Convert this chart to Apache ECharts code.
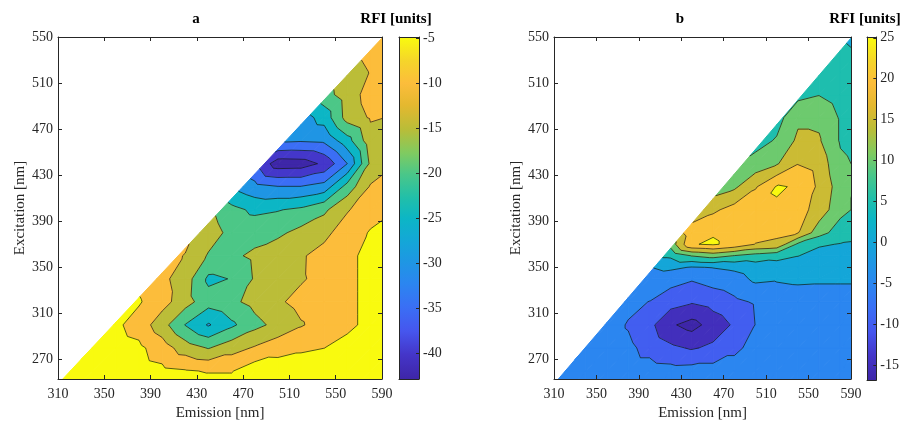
<!DOCTYPE html>
<html>
<head>
<meta charset="utf-8">
<script src="https://cdn.jsdelivr.net/npm/echarts@6/dist/echarts.min.js"></script>
<style>
  html, body { margin: 0; padding: 0; background: #fff; }
  #chart { width: 902px; height: 426px; }
</style>
</head>
<body>
<div id="chart"></div>
<script>
const _ = null;

// Sampling grid (nm)
const emission = [300, 320, 340, 360, 380, 400, 420, 440, 460, 480, 500, 520, 540, 560, 580, 600];
const excitationA = [240, 260, 280, 300, 320, 340, 360, 380, 400, 420, 440, 460, 480, 500, 520, 540, 560];
const excitationB = [240, 260, 280, 300, 320, 340, 350, 360, 370, 380, 400, 420, 440, 460, 480, 500, 520, 540, 560];

// RFI, panel a (one row per excitation, columns follow `emission`)
const rfiA = [
  [-2, -2, -2, -2, -2, -2, -2, -2, -2, -2, -2, -2, -2, -2, -2, -2],
  [-3, -3, -3, -3, -3, -3.9, -4.6, -5.3, -5.3, -2, -2.2, -2.1, -2.5, -2.5, -2.5, -2.5],
  [_, -3, -3, -3, -4, -7.5, -12.5, -15.3, -12, -9.5, -7, -5.8, -5.05, -3, -3, -3],
  [_, -3, -3.5, -4.1, -7, -13, -20.2, -25.5, -21, -16.5, -13.5, -10.4, -8, -6.3, -3.4, -2.5],
  [_, _, -3.5, -3.5, -4.55, -8, -13, -18, -16, -13.5, -10.7, -8.5, -7.5, -6.3, -3.4, -2.5],
  [_, _, _, -4.5, -6, -8.8, -12.5, -21, -19.8, -14.5, -12, -10.5, -8.5, -6.3, -3.4, -2.5],
  [_, _, _, _, -5.8, -8.5, -10.2, -15.5, -16, -14, -12, -10.6, -8, -6.3, -3.4, -2.5],
  [_, _, _, _, _, -7, -8.5, -12.5, -16.5, -17, -16, -13.5, -11.5, -7, -4.7, -3],
  [_, _, _, _, _, _, -12, -14, -18.5, -21, -20.3, -19, -16, -10.5, -6.5, -5.2],
  [_, _, _, _, _, _, _, -22, -25.5, -28.5, -29.8, -29.8, -28, -18, -9.5, -8],
  [_, _, _, _, _, _, _, _, -31, -34.5, -42.8, -42.5, -39, -30, -14, -10.5],
  [_, _, _, _, _, _, _, _, _, -30, -29, -29.5, -29, -22, -12, -9.5],
  [_, _, _, _, _, _, _, _, _, _, -29, -27.5, -23, -13, -9.5, -10.3],
  [_, _, _, _, _, _, _, _, _, _, _, -19, -17, -12.5, -8, -8],
  [_, _, _, _, _, _, _, _, _, _, _, _, -13, -12, -9.8, -9],
  [_, _, _, _, _, _, _, _, _, _, _, _, _, -9.5, -8.5, -7.5],
  [_, _, _, _, _, _, _, _, _, _, _, _, _, _, -8, -7]
];

// RFI, panel b
const rfiB = [
  [-3, -3, -3, -3, -3, -3, -3, -3, -3, -3, -3, -3, -2.8, -2.8, -2.8, -2.8],
  [-3, -3, -3, -3, -3, -3, -3.3, -3, -3, -3, -3, -3, -2.8, -2.8, -2.8, -2.8],
  [-3, -3, -3, -3, -4, -6.5, -9, -10.5, -9, -6, -3.5, -3, -2.8, -2.8, -2.8, -2.8],
  [_, -3, -3, -3, -5.35, -8.57, -14.3, -16.8, -12.9, -9.3, -4.9, -3, -2.8, -2.8, -2.8, -2.8],
  [_, _, -3, -3, -3.8, -5.1, -8, -9.5, -8, -6, -4.5, -3, -2.8, -2.8, -2.8, -2.8],
  [_, _, _, -3, -2.5, -2, -3, -4.5, -3, -2, 1, 0.5, 1, 0.8, 0.8, 0.8],
  [_, _, _, _, -1, -0.1, 1, -0.3, 0.2, 1, 2.5, 3, 3, 2, 2, 2],
  [_, _, _, _, _, 6, 6, 10.2, 12, 9.8, 8, 6.5, 5.1, 3.5, 3, 3],
  [_, _, _, _, _, 12, 12, 24.7, 25.6, 23.5, 19.8, 19, 9, 5.5, 4.8, 4.5],
  [_, _, _, _, _, _, 16, 23, 24.6, 23.5, 22, 21, 20.2, 12, 7.5, 6],
  [_, _, _, _, _, _, 12, 16, 19, 22, 24, 24.5, 22, 18, 11.5, 8.5],
  [_, _, _, _, _, _, _, 9, 12, 14, 19.5, 25.4, 24.6, 19, 12.5, 8.5],
  [_, _, _, _, _, _, _, _, 8, 9.5, 12, 14.5, 19.8, 18, 11, 9],
  [_, _, _, _, _, _, _, _, _, 7, 8, 10.5, 16, 15.5, 9.5, 8],
  [_, _, _, _, _, _, _, _, _, _, 6, 8, 14, 14, 9.5, 7],
  [_, _, _, _, _, _, _, _, _, _, _, 5, 8.5, 9.8, 7.5, 6],
  [_, _, _, _, _, _, _, _, _, _, _, _, 6, 7, 6.5, 5.5],
  [_, _, _, _, _, _, _, _, _, _, _, _, _, 5.5, 5.5, 4.6],
  [_, _, _, _, _, _, _, _, _, _, _, _, _, _, 5.2, 3.5]
];

// Contour levels and colour limits
const levelsA = [-40, -35, -30, -25, -20, -15, -10, -5];
const levelsB = [-15, -10, -5, 0, 5, 10, 15, 20, 25];
const climA = [-42.8, -4.9];
const climB = [-16.8, 25.1];

// Axis ranges and ticks
const emRange = [310, 590];
const exRange = [253, 550];
const emTicks = [310, 350, 390, 430, 470, 510, 550, 590];
const exTicks = [270, 310, 350, 390, 430, 470, 510, 550];
const cbarTicksA = [-40, -35, -30, -25, -20, -15, -10, -5];
const cbarTicksB = [-15, -10, -5, 0, 5, 10, 15, 20, 25];

// Scatter-removal edge (emission, excitation): region left of it holds no data
const maskEdge = [[313.2, 252], [590.9, 550]];

// parula-like colour map
const parulaStops = [
  [0.00, '#3e26a8'], [0.07, '#4435c8'], [0.14, '#4656ee'], [0.21, '#3a6ff5'],
  [0.28, '#2b86f0'], [0.34, '#1f96e4'], [0.40, '#14a6d8'], [0.47, '#0cb6c5'],
  [0.53, '#21bfa9'], [0.60, '#4bc788'], [0.66, '#7fcb61'], [0.73, '#b9bd38'],
  [0.80, '#e4b82f'], [0.865, '#fcbd3b'], [0.93, '#f5d52a'], [1.00, '#f9fb0e']
];
function hexToRgb(h) {
  return [parseInt(h.slice(1, 3), 16), parseInt(h.slice(3, 5), 16), parseInt(h.slice(5, 7), 16)];
}
function colormap(t) {
  t = Math.max(0, Math.min(1, t));
  for (let k = 1; k < parulaStops.length; k++) {
    const [t1, c1] = parulaStops[k];
    if (t <= t1) {
      const [t0, c0] = parulaStops[k - 1];
      const f = (t - t0) / (t1 - t0);
      const a = hexToRgb(c0), b = hexToRgb(c1);
      return 'rgb(' + a.map((v, i) => Math.round(v + (b[i] - v) * f)).join(',') + ')';
    }
  }
  return parulaStops[parulaStops.length - 1][1];
}
// Each filled band takes the colour of its lower level; the lowest one the colour minimum
function bandColors(levels, clim) {
  const span = clim[1] - clim[0];
  return [colormap(0)].concat(levels.map(L => colormap((L - clim[0]) / span)));
}

// ---- filled contours on a triangulated grid ----
function lerp(a, b, t) {
  return { e: a.e + (b.e - a.e) * t, x: a.x + (b.x - a.x) * t, v: a.v + (b.v - a.v) * t };
}
function clip(poly, side) {
  const out = [];
  for (let i = 0; i < poly.length; i++) {
    const a = poly[i], b = poly[(i + 1) % poly.length];
    const sa = side(a), sb = side(b);
    if (sa >= 0) out.push(a);
    if ((sa >= 0) !== (sb >= 0)) out.push(lerp(a, b, sa / (sa - sb)));
  }
  return out;
}
const maskSlope = (maskEdge[1][0] - maskEdge[0][0]) / (maskEdge[1][1] - maskEdge[0][1]);
function dataSide(p) {
  return p.e - (maskEdge[0][0] + (p.x - maskEdge[0][1]) * maskSlope);
}
function buildContours(em, ex, z, levels) {
  const cells = [];
  for (let j = 0; j < ex.length - 1; j++) {
    for (let i = 0; i < em.length - 1; i++) {
      const v00 = z[j][i], v10 = z[j][i + 1], v01 = z[j + 1][i], v11 = z[j + 1][i + 1];
      if (v00 == null || v10 == null || v01 == null || v11 == null) continue;
      const p00 = { e: em[i], x: ex[j], v: v00 };
      const p10 = { e: em[i + 1], x: ex[j], v: v10 };
      const p01 = { e: em[i], x: ex[j + 1], v: v01 };
      const p11 = { e: em[i + 1], x: ex[j + 1], v: v11 };
      const fills = [], lines = [];
      [[p00, p10, p11], [p00, p11, p01]].forEach(tri => {
        const P = clip(tri, dataSide);
        if (P.length < 3) return;
        for (let k = 0; k <= levels.length; k++) {
          let Q = P;
          if (k > 0) Q = clip(Q, p => p.v - levels[k - 1]);
          if (Q.length >= 3 && k < levels.length) Q = clip(Q, p => levels[k] - p.v);
          if (Q.length >= 3) fills.push({ band: k, pts: Q });
        }
        levels.forEach(L => {
          const seg = [];
          for (let n = 0; n < P.length; n++) {
            const a = P[n], b = P[(n + 1) % P.length];
            if ((a.v >= L) !== (b.v >= L)) seg.push(lerp(a, b, (L - a.v) / (b.v - a.v)));
          }
          if (seg.length === 2) lines.push(seg);
        });
      });
      if (fills.length) cells.push({ e: em[i], x: ex[j], fills, lines });
    }
  }
  return cells;
}

const cellsA = buildContours(emission, excitationA, rfiA, levelsA);
const cellsB = buildContours(emission, excitationB, rfiB, levelsB);
const colorsA = bandColors(levelsA, climA);
const colorsB = bandColors(levelsB, climB);

function fillSeries(cells, colors, axisIdx) {
  return {
    type: 'custom', xAxisIndex: axisIdx, yAxisIndex: axisIdx, clip: true, silent: true, z: 2,
    data: cells.map((c, k) => [c.e, c.x, k]),
    encode: { x: 0, y: 1 },
    renderItem: (params, api) => {
      const c = cells[params.dataIndex];
      return {
        type: 'group',
        children: c.fills.map(f => ({
          type: 'polygon',
          shape: { points: f.pts.map(p => api.coord([p.e, p.x])) },
          style: { fill: colors[f.band], stroke: colors[f.band], lineWidth: 1 }
        }))
      };
    }
  };
}
function lineSeries(cells, axisIdx) {
  return {
    type: 'custom', xAxisIndex: axisIdx, yAxisIndex: axisIdx, clip: true, silent: true, z: 3,
    data: cells.map((c, k) => [c.e, c.x, k]),
    encode: { x: 0, y: 1 },
    renderItem: (params, api) => {
      const c = cells[params.dataIndex];
      return {
        type: 'group',
        children: c.lines.map(s => {
          const a = api.coord([s[0].e, s[0].x]), b = api.coord([s[1].e, s[1].x]);
          return {
            type: 'line',
            shape: { x1: a[0], y1: a[1], x2: b[0], y2: b[1] },
            style: { stroke: '#141414', lineWidth: 0.7 }
          };
        })
      };
    }
  };
}
function colorbarSeries(clim, axisIdx) {
  const stops = parulaStops.map(([t, c]) => ({ offset: 1 - t, color: c })).reverse();
  return {
    type: 'custom', xAxisIndex: axisIdx, yAxisIndex: axisIdx, silent: true, z: 2,
    data: [[0, clim[0], 1, clim[1]]],
    encode: { x: [0, 2], y: [1, 3] },
    renderItem: (params, api) => {
      const p0 = api.coord([api.value(0), api.value(3)]);
      const p1 = api.coord([api.value(2), api.value(1)]);
      return {
        type: 'rect',
        shape: { x: p0[0], y: p0[1], width: p1[0] - p0[0], height: p1[1] - p0[1] },
        style: { fill: { type: 'linear', x: 0, y: 0, x2: 0, y2: 1, colorStops: stops } }
      };
    }
  };
}

const ink = '#262626';
const serif = 'Liberation Serif';
const lineStyle = { color: ink, width: 1 };

function plotXAxes(gi) {
  const common = {
    gridIndex: gi, type: 'value', min: emRange[0], max: emRange[1], z: 5,
    splitLine: { show: false },
    axisLine: { show: true, onZero: false, lineStyle },
    axisTick: { show: true, inside: true, length: 4, customValues: emTicks, lineStyle }
  };
  return [
    Object.assign({}, common, {
      position: 'bottom',
      axisLabel: { customValues: emTicks, color: ink, fontFamily: serif, fontSize: 14, margin: 8 },
      name: 'Emission [nm]', nameLocation: 'middle', nameGap: 27,
      nameTextStyle: { fontFamily: serif, fontSize: 15, color: ink }
    }),
    Object.assign({}, common, { position: 'top', axisLabel: { show: false } })
  ];
}
function plotYAxes(gi) {
  const common = {
    gridIndex: gi, type: 'value', min: exRange[0], max: exRange[1], z: 5,
    splitLine: { show: false },
    axisLine: { show: true, onZero: false, lineStyle },
    axisTick: { show: true, inside: true, length: 4, customValues: exTicks, lineStyle }
  };
  return [
    Object.assign({}, common, {
      position: 'left',
      axisLabel: { customValues: exTicks, color: ink, fontFamily: serif, fontSize: 14, margin: 5 },
      name: 'Excitation [nm]', nameLocation: 'middle', nameGap: 30, nameRotate: 90,
      nameTextStyle: { fontFamily: serif, fontSize: 15, color: ink }
    }),
    Object.assign({}, common, { position: 'right', axisLabel: { show: false } })
  ];
}
function cbarXAxes(gi) {
  const common = {
    gridIndex: gi, type: 'value', min: 0, max: 1, z: 5,
    splitLine: { show: false }, axisTick: { show: false }, axisLabel: { show: false },
    axisLine: { show: true, onZero: false, lineStyle }
  };
  return [Object.assign({}, common, { position: 'bottom' }), Object.assign({}, common, { position: 'top' })];
}
function cbarYAxes(gi, clim, ticks) {
  const common = {
    gridIndex: gi, type: 'value', min: clim[0], max: clim[1], z: 5,
    splitLine: { show: false },
    axisLine: { show: true, onZero: false, lineStyle }
  };
  return [
    Object.assign({}, common, { position: 'left', axisTick: { show: false }, axisLabel: { show: false } }),
    Object.assign({}, common, {
      position: 'right',
      axisTick: { show: true, inside: true, length: 3, customValues: ticks, lineStyle },
      axisLabel: { customValues: ticks, color: ink, fontFamily: serif, fontSize: 14, margin: 4 }
    })
  ];
}

function heading(text, x) {
  return {
    text, left: x, top: 12, textAlign: 'center', padding: 0,
    textStyle: { fontFamily: serif, fontWeight: 'bold', fontSize: 15, color: '#000' }
  };
}

const option = {
  animation: false,
  backgroundColor: '#ffffff',
  title: [heading('a', 196), heading('RFI [units]', 396), heading('b', 680), heading('RFI [units]', 865)],
  grid: [
    { left: 58, top: 37, width: 324, height: 342 },
    { left: 554, top: 37, width: 297, height: 342 },
    { left: 399, top: 37, width: 20, height: 342 },
    { left: 867, top: 37, width: 18, height: 343 }
  ],
  xAxis: [].concat(plotXAxes(0), plotXAxes(1), cbarXAxes(2), cbarXAxes(3)),
  yAxis: [].concat(plotYAxes(0), plotYAxes(1), cbarYAxes(2, climA, cbarTicksA), cbarYAxes(3, climB, cbarTicksB)),
  series: [
    fillSeries(cellsA, colorsA, 0),
    lineSeries(cellsA, 0),
    fillSeries(cellsB, colorsB, 2),
    lineSeries(cellsB, 2),
    colorbarSeries(climA, 4),
    colorbarSeries(climB, 6)
  ]
};

const chart = echarts.init(document.getElementById('chart'), null, { renderer: 'canvas' });
chart.setOption(option);
</script>
</body>
</html>
